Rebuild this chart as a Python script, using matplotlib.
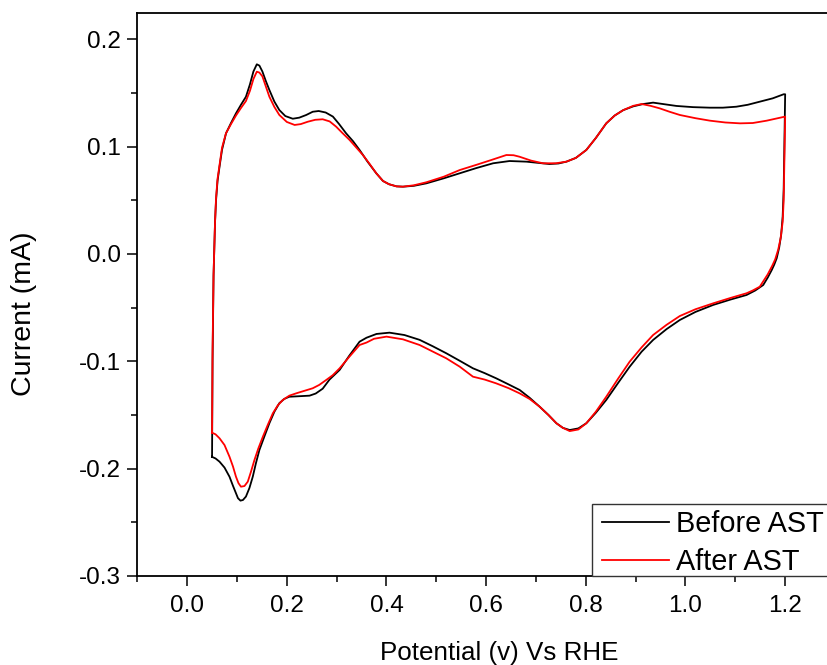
import matplotlib
matplotlib.use("Agg")
import matplotlib.pyplot as plt
from matplotlib.ticker import MultipleLocator, FormatStrFormatter
from matplotlib.patches import Rectangle

plt.rcParams['font.family'] = ['Liberation Sans', 'DejaVu Sans']
plt.rcParams['axes.unicode_minus'] = False

# Before AST: anodic sweep (0.05 -> 1.2 V) then cathodic sweep (1.2 -> 0.05 V)
before_x = [0.050, 0.051, 0.053, 0.056, 0.058, 0.061, 0.065, 0.070, 0.078, 0.088, 0.098, 0.108, 0.118,
            0.126, 0.133, 0.1398, 0.145, 0.151, 0.158, 0.165, 0.175, 0.185, 0.197, 0.212, 0.225, 0.239,
            0.252, 0.264, 0.278, 0.2925, 0.305, 0.319, 0.333, 0.346, 0.362, 0.3795, 0.393, 0.405, 0.420,
            0.433, 0.455, 0.480, 0.515, 0.547, 0.580, 0.614, 0.647, 0.681, 0.705, 0.727, 0.745, 0.761,
            0.780, 0.801, 0.820, 0.841, 0.858, 0.875, 0.895, 0.915, 0.935, 0.958, 0.982, 1.015, 1.049,
            1.075, 1.102, 1.125, 1.149, 1.175, 1.197, 1.200,
            1.199, 1.197, 1.195, 1.192, 1.188, 1.183, 1.178, 1.173, 1.165, 1.156, 1.140, 1.1225, 1.090,
            1.0554, 1.020, 0.9886, 0.962, 0.935, 0.912, 0.888, 0.865, 0.841, 0.820, 0.801, 0.785, 0.7677,
            0.754, 0.741, 0.725, 0.7074, 0.6873, 0.6673, 0.645, 0.620, 0.597, 0.5735, 0.547, 0.520, 0.493,
            0.4665, 0.436, 0.406, 0.380, 0.360, 0.346, 0.325, 0.306, 0.2857, 0.272, 0.258, 0.2456, 0.225,
            0.205, 0.195, 0.185, 0.175, 0.165, 0.155, 0.145, 0.138, 0.1317, 0.125, 0.118, 0.112, 0.107,
            0.102, 0.098, 0.092, 0.085, 0.075, 0.065, 0.057, 0.050]
before_y = [-0.189, -0.100, -0.020, 0.030, 0.050, 0.068, 0.0813, 0.097, 0.1124, 0.122, 0.131, 0.139, 0.1465,
            0.158, 0.170, 0.1767, 0.1755, 0.170, 0.161, 0.1528, 0.142, 0.1341, 0.1285, 0.126, 0.127, 0.1295,
            0.1325, 0.1332, 0.1318, 0.128, 0.121, 0.1124, 0.105, 0.0969, 0.086, 0.0752, 0.068, 0.065, 0.063,
            0.0627, 0.0635, 0.0658, 0.0705, 0.0752, 0.080, 0.0845, 0.0866, 0.086, 0.0848, 0.0838, 0.0843, 0.086,
            0.0895, 0.0969, 0.108, 0.1217, 0.129, 0.134, 0.1375, 0.1397, 0.141, 0.1395, 0.1379, 0.1368, 0.1363,
            0.1363, 0.1372, 0.139, 0.1419, 0.145, 0.1488, 0.1488,
            0.120, 0.060, 0.035, 0.018, 0.006, -0.004, -0.010, -0.015, -0.022, -0.0289, -0.034, -0.0382, -0.0425,
            -0.0475, -0.054, -0.0615, -0.070, -0.0801, -0.091, -0.105, -0.120, -0.136, -0.148, -0.1577, -0.1625, -0.164,
            -0.162, -0.1577, -0.150, -0.1423, -0.134, -0.1267, -0.1215, -0.1158, -0.111, -0.1065, -0.0995, -0.0925, -0.086,
            -0.080, -0.0755, -0.0733, -0.0745, -0.078, -0.0817, -0.095, -0.108, -0.117, -0.1255, -0.130, -0.132, -0.1325,
            -0.133, -0.135, -0.139, -0.147, -0.1577, -0.170, -0.1826, -0.195, -0.2075, -0.218, -0.226, -0.2292, -0.2298,
            -0.2275, -0.223, -0.216, -0.2075, -0.199, -0.1935, -0.1905, -0.189]

# After AST
after_x = [0.050, 0.051, 0.053, 0.056, 0.058, 0.061, 0.065, 0.070, 0.078, 0.088, 0.098, 0.108, 0.118,
           0.126, 0.133, 0.1398, 0.145, 0.151, 0.158, 0.165, 0.175, 0.185, 0.200, 0.2157, 0.228, 0.242,
           0.257, 0.272, 0.286, 0.299, 0.312, 0.326, 0.3527, 0.366, 0.3795, 0.393, 0.405, 0.420, 0.433,
           0.455, 0.480, 0.515, 0.547, 0.580, 0.610, 0.6406, 0.655, 0.667, 0.690, 0.714, 0.740, 0.761,
           0.780, 0.801, 0.820, 0.841, 0.858, 0.875, 0.895, 0.912, 0.930, 0.948, 0.968, 0.9886, 1.020,
           1.049, 1.080, 1.1095, 1.135, 1.163, 1.185, 1.200,
           1.199, 1.197, 1.195, 1.191, 1.186, 1.180, 1.174, 1.165, 1.149, 1.135, 1.1225, 1.090, 1.0554,
           1.020, 0.9886, 0.962, 0.935, 0.912, 0.888, 0.865, 0.841, 0.820, 0.801, 0.785, 0.7677, 0.754,
           0.741, 0.725, 0.7074, 0.687, 0.667, 0.645, 0.620, 0.597, 0.5735, 0.547, 0.520, 0.493, 0.4665,
           0.433, 0.400, 0.375, 0.360, 0.346, 0.325, 0.306, 0.292, 0.279, 0.265, 0.252, 0.235, 0.219,
           0.205, 0.192, 0.182, 0.172, 0.162, 0.152, 0.143, 0.135, 0.128, 0.1217, 0.115, 0.108, 0.103,
           0.098, 0.092, 0.085, 0.075, 0.065, 0.057, 0.050]
after_y = [-0.1665, -0.090, -0.020, 0.030, 0.052, 0.070, 0.083, 0.099, 0.1125, 0.121, 0.129, 0.136, 0.1425,
           0.152, 0.163, 0.1698, 0.169, 0.1655, 0.156, 0.1465, 0.137, 0.1295, 0.123, 0.1202, 0.121, 0.1232,
           0.125, 0.1255, 0.1235, 0.1186, 0.1125, 0.1062, 0.0922, 0.084, 0.0752, 0.068, 0.065, 0.063, 0.0627,
           0.064, 0.0668, 0.072, 0.0782, 0.083, 0.0875, 0.0922, 0.092, 0.0906, 0.087, 0.0845, 0.0845, 0.086,
           0.0895, 0.0969, 0.108, 0.1217, 0.129, 0.134, 0.138, 0.1397, 0.138, 0.1357, 0.1325, 0.1295, 0.1265,
           0.1242, 0.1225, 0.1217, 0.122, 0.1242, 0.1265, 0.128,
           0.100, 0.050, 0.030, 0.015, 0.004, -0.005, -0.011, -0.019, -0.0305, -0.034, -0.0366, -0.041, -0.046,
           -0.0515, -0.0578, -0.066, -0.0755, -0.087, -0.1003, -0.116, -0.133, -0.147, -0.1577, -0.1635, -0.165, -0.162,
           -0.1577, -0.150, -0.1423, -0.135, -0.1298, -0.125, -0.1205, -0.117, -0.1143, -0.105, -0.0972, -0.091, -0.0848,
           -0.0795, -0.077, -0.079, -0.0825, -0.0848, -0.096, -0.1065, -0.113, -0.1174, -0.122, -0.1251, -0.1275, -0.1298,
           -0.132, -0.136, -0.141, -0.1484, -0.159, -0.1702, -0.181, -0.192, -0.203, -0.2121, -0.2162, -0.2168, -0.2135,
           -0.2075, -0.198, -0.1889, -0.178, -0.1717, -0.168, -0.1665]

series_labels = ["Before AST", "After AST"]
series_colors = ["#000000", "#ff0000"]

W, H = 828, 665
fig = plt.figure(figsize=(W / 100, H / 100), dpi=100)
# plot frame runs just past the right edge of the picture (cropped, as in the reference)
ax = fig.add_axes([137.3 / W, (H - 576) / H, (835 - 137.3) / W, (576 - 13) / H])

ax.plot(before_x, before_y, color=series_colors[0], lw=1.3, label=series_labels[0])
ax.plot(after_x, after_y, color=series_colors[1], lw=1.3, label=series_labels[1])

ax.set_xlim(-0.1, 1.3)
ax.set_ylim(-0.3, 0.2245)
ax.xaxis.set_major_locator(MultipleLocator(0.2))
ax.xaxis.set_minor_locator(MultipleLocator(0.1))
ax.yaxis.set_major_locator(MultipleLocator(0.1))
ax.yaxis.set_minor_locator(MultipleLocator(0.05))
ax.xaxis.set_major_formatter(FormatStrFormatter('%.1f'))
ax.yaxis.set_major_formatter(FormatStrFormatter('%.1f'))

for s in ax.spines.values():
    s.set_linewidth(1.3)
ax.spines['right'].set_visible(False)
ax.tick_params(which='major', direction='out', length=7.5, width=1.1, labelsize=17.5, pad=4.5,
               top=False, right=False)
ax.tick_params(which='minor', direction='out', length=4, width=1.1, top=False, right=False)
ax.tick_params(axis='x', which='major', pad=6)

fig.text(499 / W, (H - 660) / H, "Potential (v) Vs RHE", fontsize=18.7, ha='center', va='baseline')
fig.text(24 / W, (H - 313.5) / H, "Current (mA)", fontsize=20.5, ha='center', va='center', rotation=90)

# legend frame (runs off the right edge like the reference)
ax.add_patch(Rectangle((591.7 / W, (H - 576) / H), (900 - 591.7) / W, 72 / H,
                       transform=fig.transFigure, facecolor='white', edgecolor='#333333',
                       linewidth=1.0, zorder=4, clip_on=False))
leg = ax.legend(loc='center left', bbox_to_anchor=(601.7 / W, (H - 543) / H), bbox_transform=fig.transFigure,
                borderaxespad=0, fontsize=20.8, frameon=False, handlelength=2.32, handletextpad=0.25,
                borderpad=0.0, labelspacing=0.35)
leg.set_zorder(6)

fig.savefig("out.png", dpi=100)
